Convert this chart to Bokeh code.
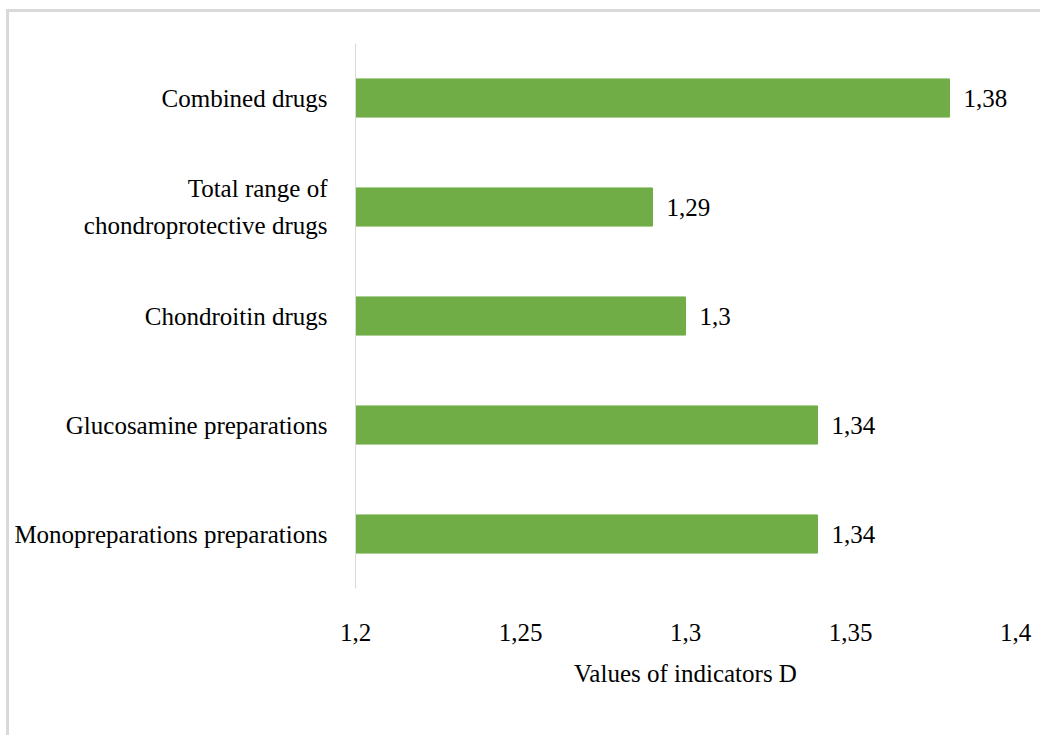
from bokeh.plotting import figure
from bokeh.models import ColumnDataSource, FixedTicker, Range1d, Label
from bokeh.core.properties import value
from bokeh.embed import file_html
from bokeh.resources import INLINE

categories = ["Monopreparations preparations", "Glucosamine preparations", "Chondroitin drugs",
              "Total range of\nchondroprotective drugs", "Combined drugs"]
values = [1.34, 1.34, 1.30, 1.29, 1.38]
labels = ["1,34", "1,34", "1,3", "1,29", "1,38"]
ticks = [1.2, 1.25, 1.3, 1.35, 1.4]
tick_labels = ["1,2", "1,25", "1,3", "1,35", "1,4"]

FONT = "Liberation Serif"
FS = "25px"
src = ColumnDataSource(dict(cat=categories, val=values, lab=labels, base=[ticks[0]] * 5))

p = figure(y_range=categories, x_range=Range1d(ticks[0], ticks[-1]), width=1034, height=726,
           output_backend="svg", toolbar_location=None,
           min_border_left=346, min_border_right=28, min_border_top=31, min_border_bottom=150)
p.styles = {"border-top": "3px solid #d9d9d9", "border-left": "3px solid #d9d9d9",
            "margin-left": "6px", "margin-top": "9px"}
p.outline_line_color = None
p.grid.grid_line_color = None

p.hbar(y="cat", left="base", right="val", height=0.35, source=src, color="#70ad47")
p.text(x="val", y="cat", text="lab", source=src, x_offset=14, text_align="left",
       text_baseline="middle", text_font=value(FONT), text_font_size=FS, text_color="#000000")

p.xaxis.ticker = FixedTicker(ticks=ticks)
p.xaxis.major_label_overrides = {t: l for t, l in zip(ticks, tick_labels)}
p.xaxis.axis_line_color = None
p.xaxis.major_tick_line_color = None
p.xaxis.minor_tick_line_color = None
p.xaxis.major_label_standoff = 29
p.xaxis.axis_label = "Values of indicators D"
p.xaxis.axis_label_standoff = 16
p.xaxis.axis_label_text_font_style = "normal"

p.yaxis.axis_line_color = "#d9d9d9"
p.yaxis.major_tick_line_color = None
p.yaxis.minor_tick_line_color = None
p.yaxis.major_label_standoff = 22
p.yaxis.major_label_text_line_height = 1.4

# the two-line category label is drawn centred (as in the original) by a Label
two_line = categories[3]
p.yaxis.major_label_overrides = {two_line: ""}
p.add_layout(Label(x=ticks[0], y=categories.index(two_line) + 0.5, text=two_line, x_offset=-144,
                   text_align="center", text_baseline="middle", text_font=FONT,
                   text_font_size=FS, text_color="#000000", text_line_height=1.4))

for ax in (p.xaxis[0], p.yaxis[0]):
    ax.major_label_text_font = FONT
    ax.major_label_text_font_size = FS
    ax.major_label_text_color = "#000000"
    ax.axis_label_text_font = FONT
    ax.axis_label_text_font_size = FS
    ax.axis_label_text_color = "#000000"

open("out.html", "w").write(file_html(p, INLINE))
